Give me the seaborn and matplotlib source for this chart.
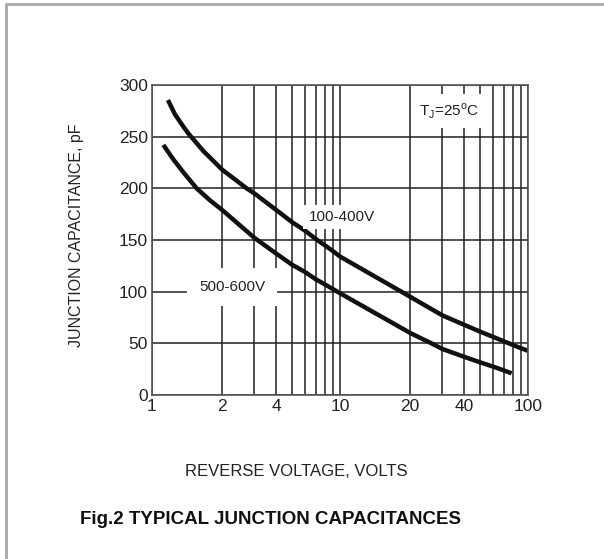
import matplotlib
matplotlib.use("Agg")
import matplotlib.pyplot as plt
import seaborn as sns
import pandas as pd
import numpy as np
from matplotlib.lines import Line2D
from matplotlib.ticker import FixedLocator, FixedFormatter, NullLocator

# ---- data ----
v_hi = [1.12, 1.194, 1.296, 1.363, 1.605, 2, 2.71, 3, 4, 5, 6, 7, 8, 9, 10,
        18, 20, 30, 40, 50, 60, 70, 80, 90, 100]
c_hi = [285.5, 271.6, 259.7, 253.2, 236.1, 218, 200, 195, 179.2, 167.2, 159, 151, 144.8, 139.3, 134,
        100, 95, 77, 68, 61.3, 56.3, 52, 48.4, 45.3, 42.8]
v_lo = [1.078, 1.176, 1.296, 1.49, 1.73, 2, 3, 4, 5, 6, 7, 8, 9, 10,
        20, 26, 30, 40, 50, 60, 70, 78.5]
c_lo = [242, 228, 215.5, 200, 188.4, 179, 152, 137, 126, 119, 112, 107, 102.5, 98.5,
        60, 50, 44.5, 37, 31.6, 27.5, 23.8, 21]
series_names = ["100-400V", "500-600V"]
x_grid = [1, 2, 3, 4, 5, 6, 7, 8, 9, 10, 20, 30, 40, 50, 60, 70, 80, 90, 100]
x_labels = ["1", "2", "", "4", "", "", "", "", "", "10", "20", "", "40", "", "", "", "", "", "100"]
y_ticks = [0, 50, 100, 150, 200, 250, 300]

df = pd.concat([
    pd.DataFrame({"V": v_hi, "C": c_hi, "series": series_names[0]}),
    pd.DataFrame({"V": v_lo, "C": c_lo, "series": series_names[1]}),
])

# the reference's log paper compresses the upper part of each decade
WARP = 0.82
def fwd(x):
    x = np.clip(np.asarray(x, dtype=float), 1e-3, None)
    L = np.log10(x)
    f = np.floor(L)
    return f + np.clip(L - f, 0, None) ** WARP
def inv(p):
    p = np.asarray(p, dtype=float)
    f = np.floor(p)
    return 10 ** (f + np.clip(p - f, 0, None) ** (1 / WARP))

sns.set_theme(style="white")
plt.rcParams["font.family"] = ["Liberation Sans", "DejaVu Sans"]

fig = plt.figure(figsize=(6.04, 5.59), dpi=100)
ax = fig.add_axes([152/604, 1-395/559, 376/604, 310/559])

sns.lineplot(data=df, x="V", y="C", units="series", estimator=None, sort=False,
             color="#111111", lw=3.2, ax=ax, legend=False,
             solid_joinstyle="round", solid_capstyle="butt")

ax.set_xscale("function", functions=(fwd, inv))
ax.set_xlim(1, 100)
ax.set_ylim(0, 300)
ax.xaxis.set_major_locator(FixedLocator(x_grid))
ax.xaxis.set_major_formatter(FixedFormatter(x_labels))
ax.xaxis.set_minor_locator(NullLocator())
ax.set_yticks(y_ticks)
ax.grid(True, which="major", color="#222222", lw=1.1)
ax.tick_params(length=0, labelsize=12.5, colors="#222222", pad=3)
for s in ax.spines.values():
    s.set_color("#555555")
    s.set_linewidth(1.2)
ax.set_xlabel("")
ax.set_ylabel("")

bb = dict(boxstyle="square,pad=0.35", fc="white", ec="none")
ax.text(0.505, 0.574, "100-400V", transform=ax.transAxes, ha="center", va="center",
        fontsize=11, color="#222222", bbox=bb, zorder=5)
ax.text(0.213, 0.348, "500-600V", transform=ax.transAxes, ha="center", va="center",
        fontsize=11, color="#222222", bbox=dict(boxstyle="square,pad=0.8", fc="white", ec="none"), zorder=5)
ax.text(0.79, 0.916, r"T$_\mathregular{J}$=25$^\mathregular{o}$C", transform=ax.transAxes,
        ha="center", va="center", fontsize=11, color="#222222",
        bbox=dict(boxstyle="square,pad=0.5", fc="white", ec="none"), zorder=5)

fig.text(77/604, 1-235/559, "JUNCTION CAPACITANCE, pF", rotation=90, ha="center", va="center",
         fontsize=11.5, color="#222222")
fig.text(296/604, 1-472/559, "REVERSE VOLTAGE, VOLTS", ha="center", va="center",
         fontsize=12, color="#222222")
fig.text(271/604, 1-520/559, "Fig.2 TYPICAL JUNCTION CAPACITANCES", ha="center", va="center",
         fontsize=13.5, fontweight="bold", color="#111111")

fig.add_artist(Line2D([6/604, 1], [1-4/559, 1-4/559], transform=fig.transFigure, color="#a8a8a8", lw=2))
fig.add_artist(Line2D([6/604, 6/604], [0, 1-4/559], transform=fig.transFigure, color="#a8a8a8", lw=2))

fig.savefig("out.png", dpi=100)
